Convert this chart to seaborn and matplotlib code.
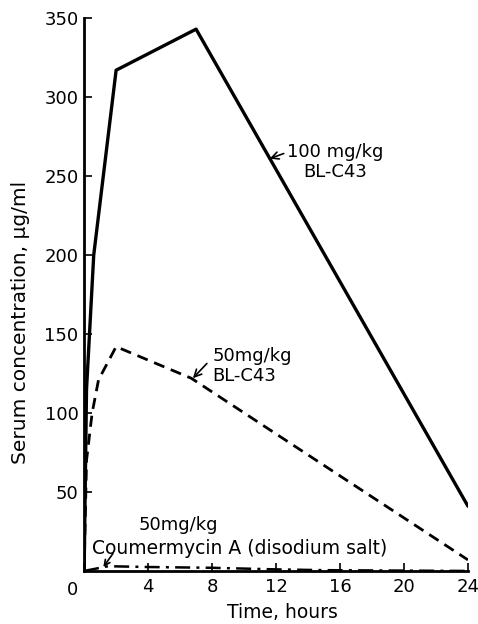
import numpy as np
import pandas as pd
import matplotlib
matplotlib.use("Agg")
import matplotlib.pyplot as plt
import seaborn as sns

# Data
time_100 = [0, 0.15, 0.6, 2, 7, 24]
conc_100 = [0, 115, 200, 317, 343, 41]

time_50 = [0, 0.15, 0.5, 0.9, 2, 6.7, 24]
conc_50 = [0, 70, 100, 121, 142, 122, 7]

time_cou = [0, 1.5, 4, 8, 12, 15, 24]
conc_cou = [0, 3, 2.5, 2, 1, 0.5, 0]

x_ticks = [0, 4, 8, 12, 16, 20, 24]
x_labels = ["", "4", "8", "12", "16", "20", "24"]
y_ticks = [50, 100, 150, 200, 250, 300, 350]

sns.set_style("ticks")
plt.rcParams['font.family'] = ['DejaVu Sans']
plt.rcParams['text.color'] = 'black'

fig = plt.figure(figsize=(4.78, 6.24), dpi=100)
ax = fig.add_axes([0.176, 0.085, 0.803, 0.886])

df100 = pd.DataFrame({"t": time_100, "c": conc_100})
df50 = pd.DataFrame({"t": time_50, "c": conc_50})
dfc = pd.DataFrame({"t": time_cou, "c": conc_cou})

sns.lineplot(data=df100, x="t", y="c", ax=ax, color="black", lw=2.4,
             sort=False, estimator=None)
sns.lineplot(data=df50, x="t", y="c", ax=ax, color="black", lw=2.0,
             linestyle=(0, (4, 2.5)), sort=False, estimator=None)
sns.lineplot(data=dfc, x="t", y="c", ax=ax, color="black", lw=1.8,
             linestyle=(0, (6, 2.5, 1.2, 2.5)), sort=False, estimator=None)

ax.set_xlim(0, 24)
ax.set_ylim(0, 350)
ax.set_xticks(x_ticks)
ax.set_yticks(y_ticks)
ax.set_xticklabels(x_labels)
ax.set_yticklabels([str(v) for v in y_ticks])
# shared origin label
ax.text(-0.75, -12, "0", ha="center", va="center", fontsize=13,
        color="black", clip_on=False)

for s in ["top", "right"]:
    ax.spines[s].set_visible(False)
for s in ["left", "bottom"]:
    ax.spines[s].set_linewidth(2.0)
    ax.spines[s].set_color("black")

ax.tick_params(axis="both", direction="in", length=6, width=1.2,
               labelsize=13, colors="black")
ax.tick_params(axis="x", pad=5)
ax.tick_params(axis="y", pad=4)

ax.set_xlabel("Time, hours", fontsize=13.5, color="black")
ax.set_ylabel("Serum concentration, \u03bcg/ml", fontsize=14.5, color="black")
ax.xaxis.set_label_coords(0.516, -0.076)
ax.yaxis.set_label_coords(-0.165, 0.45)
ax.xaxis.label.set_va("center")
ax.yaxis.label.set_va("center")

# Annotations
ax.annotate("100 mg/kg\nBL-C43", xy=(11.6, 261), xytext=(15.7, 259),
            ha="center", va="center", fontsize=13, linespacing=1.15,
            color="black",
            arrowprops=dict(arrowstyle="->", color="black", lw=1.2,
                            shrinkA=0, shrinkB=0, relpos=(0.0, 0.75)))
ax.annotate("50mg/kg\nBL-C43", xy=(6.8, 122), xytext=(8.0, 130),
            ha="left", va="center", fontsize=13, linespacing=1.15,
            color="black",
            arrowprops=dict(arrowstyle="->", color="black", lw=1.2,
                            shrinkA=2, shrinkB=0, relpos=(0.0, 0.7)))
ax.text(5.9, 29, "50mg/kg", ha="center", va="center", fontsize=13,
        color="black")
ax.text(9.75, 14.5, "Coumermycin A (disodium salt)", ha="center",
        va="center", fontsize=13.5, color="black")
ax.annotate("", xy=(1.2, 2.5), xytext=(1.8, 11),
            arrowprops=dict(arrowstyle="->", color="black", lw=1.2,
                            shrinkA=0, shrinkB=0))

fig.savefig("out.png", dpi=100, facecolor="white")
